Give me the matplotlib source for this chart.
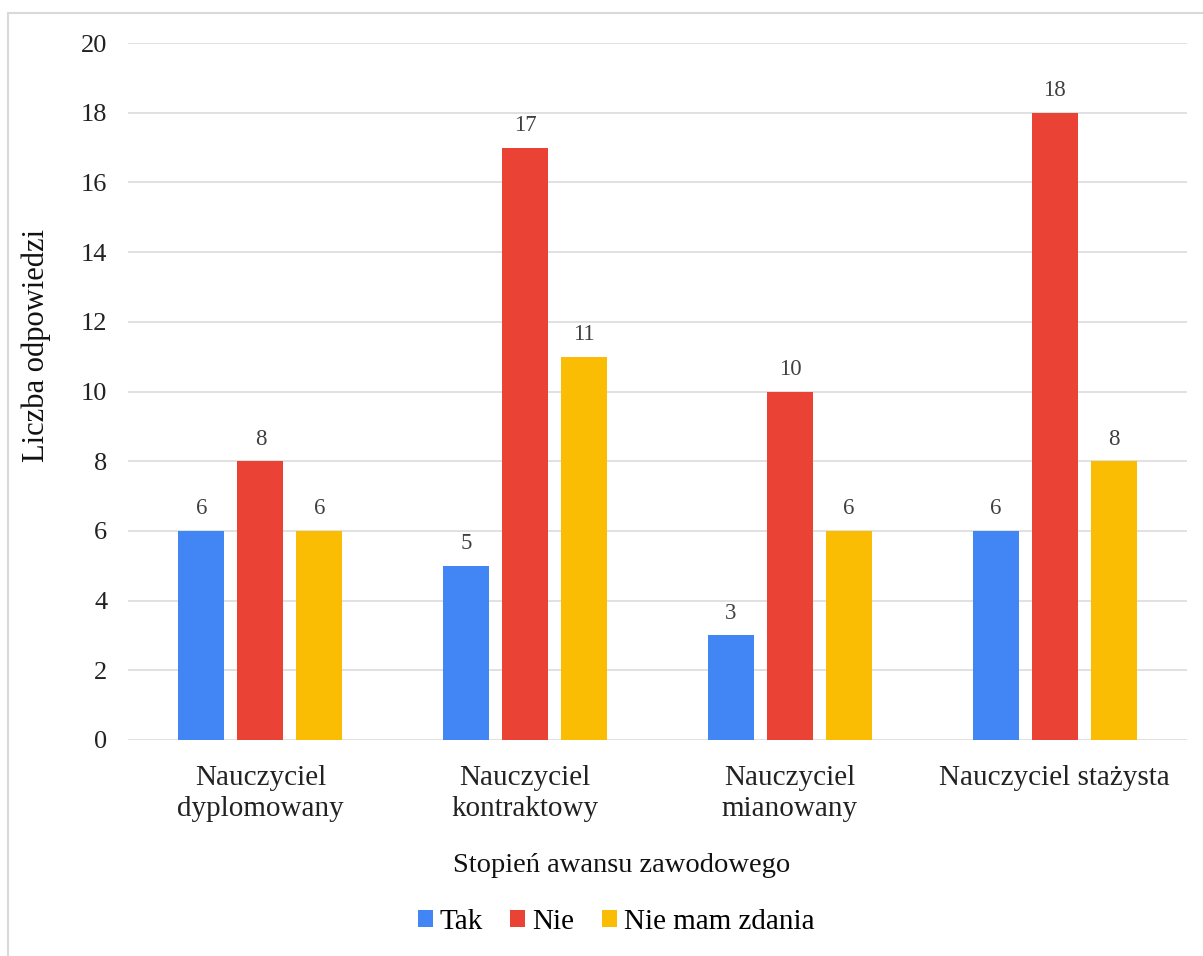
import matplotlib
matplotlib.use("Agg")
import matplotlib.pyplot as plt
from matplotlib.lines import Line2D
from matplotlib.patches import Patch
import numpy as np

categories = ["Nauczyciel\ndyplomowany", "Nauczyciel\nkontraktowy", "Nauczyciel\nmianowany", "Nauczyciel stażysta"]
series_names = ["Tak", "Nie", "Nie mam zdania"]
tak = [6, 5, 3, 6]
nie = [8, 17, 10, 18]
brak = [6, 11, 6, 8]
colors = ["#4285F4", "#EA4335", "#FBBC04"]
yticks = [0, 2, 4, 6, 8, 10, 12, 14, 16, 18, 20]

plt.rcParams['font.family'] = ['Liberation Serif', 'DejaVu Serif']

W, H = 1203, 956
fig = plt.figure(figsize=(W / 100, H / 100), dpi=100)
ax = fig.add_axes([128 / W, 1 - 740 / H, (1187 - 128) / W, (740 - 43) / H])

x = np.arange(len(categories))
width = 0.174
offsets = [-0.223, 0, 0.223]
for vals, off, col, name in zip([tak, nie, brak], offsets, colors, series_names):
    bars = ax.bar(x + off, vals, width, color=col, label=name, zorder=3)
    for b, v in zip(bars, vals):
        ax.annotate(str(v), (b.get_x() + b.get_width() / 2, v),
                    xytext=(0, 12), textcoords="offset points",
                    ha="center", va="baseline", fontsize=16.5, color="#404040")

ax.set_xlim(-0.5, len(categories) - 0.5)
ax.set_ylim(0, 20)
ax.set_yticks(yticks)
ax.set_yticklabels([str(t) for t in yticks], fontsize=19)
ax.set_xticks(x)
ax.set_xticklabels(categories, fontsize=21, linespacing=1.25)
ax.tick_params(axis="both", length=0, colors="#222222")
ax.tick_params(axis="y", pad=15)
ax.tick_params(axis="x", pad=18)
ax.grid(axis="y", color="#d9d9d9", linewidth=1.1, zorder=0)
for s in ax.spines.values():
    s.set_visible(False)

ax.set_ylabel("Liczba odpowiedzi", fontsize=22, color="#111111")
ax.yaxis.set_label_coords(-(128 - 51) / (1187 - 128), (740 - 345) / (740 - 43))

fig.text(622 / W, 1 - 865 / H, "Stopień awansu zawodowego", fontsize=20.5,
         ha="center", va="center", color="#111111")

handles = [Patch(facecolor=c, label=n) for c, n in zip(colors, series_names)]
fig.legend(handles=handles, loc="center", bbox_to_anchor=(616 / W, 1 - 922 / H),
           ncol=3, frameon=False, fontsize=21, handlelength=0.52, handleheight=0.52,
           handletextpad=0.24, columnspacing=0.93, borderpad=0)

# outer chart frame (left and top edges visible)
fig.add_artist(Line2D([8 / W, 8 / W], [0, 1 - 13 / H], transform=fig.transFigure,
                      color="#d9d9d9", linewidth=1.5))
fig.add_artist(Line2D([8 / W, 1], [1 - 13 / H, 1 - 13 / H], transform=fig.transFigure,
                      color="#d9d9d9", linewidth=1.5))

fig.savefig("out.png", dpi=100)
